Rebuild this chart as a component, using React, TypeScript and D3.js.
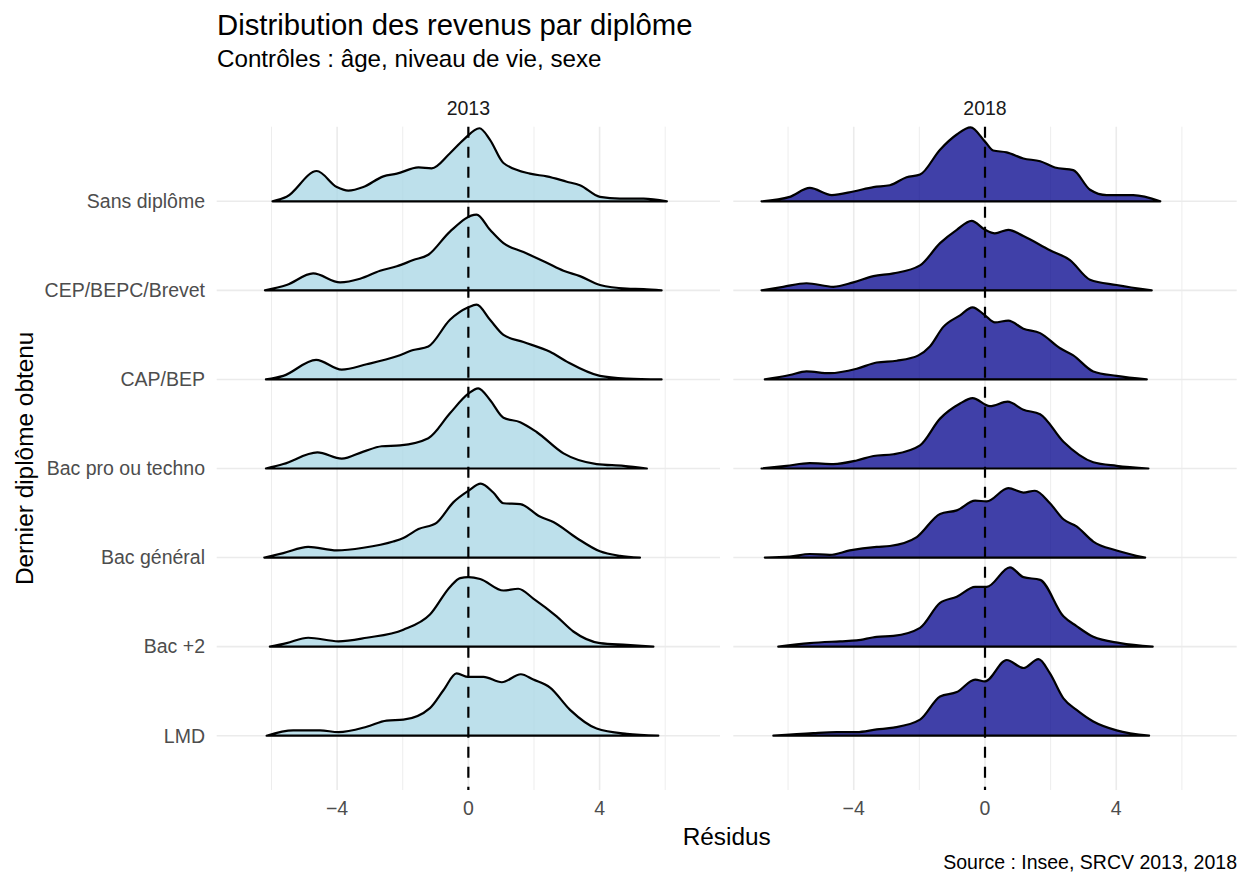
import * as React from "react";
import { area, curveMonotoneX, scaleLinear, scalePoint } from "d3";

// categories, top to bottom
const diplomes = ["Sans diplôme", "CEP/BEPC/Brevet", "CAP/BEP", "Bac pro ou techno", "Bac général", "Bac +2", "LMD"];
const annees = ["2013", "2018"];
const xTicks = [-4, 0, 4];
const xMinorTicks = [-6, -2, 2, 6];

// [résidu, densité en hauteur de ligne]
const sans2013: [number, number][] = [[-5.97,0],[-5.54,0.05],[-4.62,0.34],[-4.01,0.16],[-3.66,0.12],[-3.2,0.16],[-2.59,0.28],[-2.18,0.31],[-1.52,0.38],[-1.12,0.37],[-0.56,0.54],[-0.15,0.69],[0.34,0.82],[0.66,0.69],[1.07,0.43],[1.88,0.31],[2.39,0.28],[3.0,0.22],[3.4,0.18],[4.01,0.05],[4.62,0.03],[5.34,0.03],[6.05,0]];
const cep2013: [number, number][] = [[-6.2,0],[-5.54,0.06],[-4.73,0.19],[-3.91,0.09],[-3.3,0.13],[-2.69,0.22],[-2.18,0.27],[-1.68,0.34],[-1.22,0.4],[-0.56,0.66],[0.25,0.85],[0.66,0.68],[1.07,0.53],[1.68,0.43],[2.39,0.31],[2.9,0.22],[3.4,0.16],[4.01,0.06],[4.83,0.02],[5.34,0.015],[5.89,0]];
const cap2013: [number, number][] = [[-6.17,0],[-5.64,0.04],[-4.64,0.22],[-3.86,0.11],[-3.1,0.17],[-2.18,0.26],[-1.68,0.33],[-1.22,0.37],[-0.56,0.67],[0,0.81],[0.25,0.84],[0.66,0.67],[1.07,0.5],[1.68,0.42],[2.49,0.31],[3.0,0.2],[4.01,0.04],[4.83,0.01],[5.89,0]];
const bacpro2013: [number, number][] = [[-6.17,0],[-5.64,0.05],[-4.6,0.18],[-3.86,0.11],[-3.2,0.19],[-2.64,0.25],[-2.08,0.26],[-1.22,0.34],[-0.56,0.62],[0,0.84],[0.3,0.9],[0.66,0.77],[1.07,0.57],[1.58,0.52],[2.08,0.41],[2.9,0.17],[3.91,0.05],[4.73,0.03],[5.44,0]];
const bacgen2013: [number, number][] = [[-6.22,0],[-5.64,0.05],[-4.88,0.12],[-4.01,0.08],[-3.2,0.11],[-2.29,0.18],[-1.98,0.22],[-1.52,0.32],[-0.97,0.39],[-0.46,0.62],[0,0.75],[0.38,0.83],[0.76,0.73],[1.07,0.61],[1.58,0.6],[2.18,0.46],[2.59,0.4],[3.3,0.22],[4.01,0.07],[4.62,0.02],[5.23,0]];
const bac2_2013: [number, number][] = [[-6.05,0],[-5.54,0.04],[-4.88,0.1],[-3.96,0.06],[-3.1,0.1],[-1.98,0.19],[-1.17,0.36],[-0.56,0.67],[-0.25,0.77],[0,0.78],[0.36,0.76],[1.07,0.63],[1.52,0.65],[1.98,0.54],[2.69,0.34],[3.2,0.17],[4.01,0.04],[4.83,0.02],[5.64,0]];
const lmd2013: [number, number][] = [[-6.15,0],[-5.34,0.06],[-4.52,0.06],[-3.96,0.04],[-3.1,0.1],[-2.49,0.17],[-1.98,0.18],[-1.17,0.31],[-0.76,0.51],[-0.36,0.7],[0,0.66],[0.46,0.66],[1.02,0.6],[1.6,0.69],[1.98,0.63],[2.49,0.54],[3.1,0.29],[3.91,0.08],[4.83,0.02],[5.79,0]];

const sans2018: [number, number][] = [[-6.81,0],[-5.95,0.05],[-5.34,0.15],[-4.67,0.07],[-4.01,0.11],[-3.4,0.16],[-2.9,0.18],[-2.39,0.27],[-1.98,0.3],[-1.37,0.58],[-0.86,0.75],[-0.44,0.83],[0,0.67],[0.25,0.57],[0.66,0.55],[1.17,0.48],[1.68,0.45],[2.13,0.38],[2.69,0.35],[3.2,0.13],[3.71,0.07],[4.52,0.07],[5.34,0]];
const cep2018: [number, number][] = [[-6.81,0],[-6.15,0.04],[-5.44,0.08],[-4.62,0.04],[-4.01,0.09],[-3.4,0.16],[-2.79,0.19],[-1.98,0.28],[-1.37,0.53],[-0.86,0.68],[-0.41,0.78],[0,0.68],[0.3,0.64],[0.71,0.68],[1.17,0.61],[1.98,0.45],[2.59,0.34],[3.2,0.12],[4.01,0.06],[5.08,0]];
const cap2018: [number, number][] = [[-6.71,0],[-5.95,0.05],[-5.44,0.09],[-4.73,0.07],[-3.91,0.12],[-3.3,0.19],[-2.69,0.21],[-2.03,0.27],[-1.68,0.37],[-1.27,0.59],[-0.76,0.72],[-0.38,0.81],[0,0.72],[0.3,0.64],[0.71,0.66],[1.17,0.57],[1.68,0.52],[2.29,0.35],[2.69,0.27],[3.3,0.09],[4.01,0.04],[4.93,0]];
const bacpro2018: [number, number][] = [[-6.81,0],[-6.05,0.03],[-5.34,0.06],[-4.62,0.05],[-3.91,0.09],[-3.4,0.14],[-2.79,0.16],[-1.98,0.26],[-1.37,0.56],[-0.76,0.73],[-0.38,0.79],[0.15,0.7],[0.69,0.75],[1.17,0.66],[1.68,0.61],[2.39,0.3],[3.3,0.07],[4.01,0.03],[4.98,0]];
const bacgen2018: [number, number][] = [[-6.71,0],[-5.95,0.01],[-5.34,0.04],[-4.73,0.03],[-4.12,0.08],[-3.3,0.12],[-2.9,0.13],[-2.08,0.23],[-1.37,0.49],[-0.86,0.53],[-0.3,0.64],[0.05,0.63],[0.71,0.78],[1.17,0.73],[1.52,0.75],[1.98,0.61],[2.39,0.43],[2.79,0.35],[3.3,0.18],[4.01,0.08],[4.88,0]];
const bac2_2018: [number, number][] = [[-6.3,0],[-5.34,0.04],[-4.42,0.06],[-3.91,0.07],[-3.3,0.11],[-2.79,0.12],[-1.98,0.21],[-1.37,0.49],[-0.86,0.56],[-0.3,0.67],[0.05,0.67],[0.76,0.89],[1.17,0.78],[1.68,0.75],[2.39,0.34],[2.79,0.23],[3.3,0.11],[4.12,0.04],[5.11,0]];
const lmd2018: [number, number][] = [[-6.45,0],[-5.23,0.03],[-4.52,0.04],[-3.91,0.04],[-3.3,0.07],[-2.79,0.09],[-1.98,0.18],[-1.37,0.44],[-0.86,0.49],[-0.3,0.63],[0,0.61],[0.66,0.85],[1.17,0.76],[1.63,0.86],[1.98,0.7],[2.39,0.42],[2.79,0.29],[3.3,0.16],[4.01,0.06],[5.0,0]];

const densites2013 = [sans2013, cep2013, cap2013, bacpro2013, bacgen2013, bac2_2013, lmd2013];
const densites2018 = [sans2018, cep2018, cap2018, bacpro2018, bacgen2018, bac2_2018, lmd2018];

const W = 1239;
const H = 878;
const panelTop = 126.7;
const panelBottom = 790;
const panels = [
  { annee: annees[0], x0: 216.7, x1: 720, data: densites2013, fill: "lightblue", opacity: 0.8 },
  { annee: annees[1], x0: 733.3, x1: 1236.7, data: densites2018, fill: "darkblue", opacity: 0.75 },
];

const font = "'Liberation Sans', Arial, sans-serif";

export default function App() {
  const yScale = scalePoint<string>().domain(diplomes).range([201.3, 735.7]);
  const hScale = scaleLinear().domain([0, 1]).range([0, yScale.step()]);

  const drawPanel = (p: typeof panels[number]) => {
    const xScale = scaleLinear().domain([-7.67, 7.67]).range([p.x0, p.x1]);
    return (
      <g key={p.annee}>
        {xMinorTicks.map((t) => (
          <line key={"m" + t} x1={xScale(t)} x2={xScale(t)} y1={panelTop} y2={panelBottom} stroke="#EBEBEB" strokeWidth={0.9} />
        ))}
        {xTicks.map((t) => (
          <line key={"M" + t} x1={xScale(t)} x2={xScale(t)} y1={panelTop} y2={panelBottom} stroke="#EBEBEB" strokeWidth={1.6} />
        ))}
        {diplomes.map((d) => (
          <line key={"h" + d} x1={p.x0} x2={p.x1} y1={yScale(d)} y2={yScale(d)} stroke="#EBEBEB" strokeWidth={1.6} />
        ))}
        {p.data.map((dens, i) => {
          const base = yScale(diplomes[i]) as number;
          const path = area<[number, number]>()
            .x((v) => xScale(v[0]))
            .y0(base)
            .y1((v) => base - hScale(v[1]))
            .curve(curveMonotoneX)(dens);
          return (
            <path key={diplomes[i]} d={path || ""} fill={p.fill} fillOpacity={p.opacity} stroke="black" strokeWidth={2.2} strokeLinejoin="round" />
          );
        })}
        <line x1={xScale(0)} x2={xScale(0)} y1={panelTop} y2={panelBottom} stroke="black" strokeWidth={2.2} strokeDasharray="11,9" />
        <text x={(p.x0 + p.x1) / 2} y={115} textAnchor="middle" fontSize={19.5} fill="#1A1A1A">{p.annee}</text>
        {xTicks.map((t) => (
          <text key={"t" + t} x={xScale(t)} y={815} textAnchor="middle" fontSize={19.5} fill="#4D4D4D">
            {t < 0 ? "\u2212" + Math.abs(t) : String(t)}
          </text>
        ))}
      </g>
    );
  };

  return (
    <svg width={W} height={H} style={{ position: "absolute", left: 0, top: 0, background: "white" }} fontFamily={font}>
      <text x={217} y={35} fontSize={29.3} fill="black">Distribution des revenus par diplôme</text>
      <text x={217} y={67} fontSize={24.2} fill="black">Contrôles : âge, niveau de vie, sexe</text>
      {panels.map(drawPanel)}
      {diplomes.map((d) => (
        <text key={d} x={205} y={yScale(d)} dy="0.35em" textAnchor="end" fontSize={19.5} fill="#4D4D4D">{d}</text>
      ))}
      <text x={(216.7 + 1236.7) / 2} y={845} textAnchor="middle" fontSize={24.4} fill="black">Résidus</text>
      <text transform={`translate(33,${(panelTop + panelBottom) / 2}) rotate(-90)`} textAnchor="middle" fontSize={24.4} fill="black">
        Dernier diplôme obtenu
      </text>
      <text x={1237} y={869} textAnchor="end" fontSize={19.5} fill="black">Source : Insee, SRCV 2013, 2018</text>
    </svg>
  );
}
